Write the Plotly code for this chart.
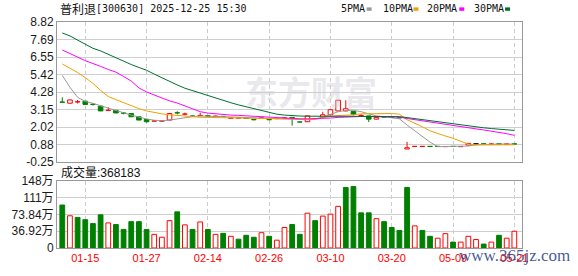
import plotly.graph_objects as go

# ---------------- data ----------------
opens = [3.65, 3.57, 3.65, 3.70, 3.50, 3.38, 3.10, 3.11, 2.93, 2.90,
         2.69, 2.52, 2.41, 2.41, 2.48, 2.95, 2.86, 2.74, 2.77, 2.76,
         2.72, 2.72, 2.60, 2.61, 2.59, 2.51, 2.61, 2.51, 2.57, 2.61,
         2.65, 2.36, 2.37, 2.57, 2.65, 2.82, 3.07, 3.07, 3.04, 2.77,
         2.75, 2.54, 2.68, 2.66, 2.63, 0.61, 0.77, 0.77, 0.78, 0.78,
         0.76, 0.78, 0.76, 0.86, 0.93, 0.94, 0.92, 0.94, 0.92, 0.94]
highs = [3.95, 3.80, 3.78, 3.72, 3.58, 3.39, 3.30, 3.13, 3.00, 2.92,
         2.70, 2.56, 2.48, 2.43, 2.92, 3.05, 2.96, 2.77, 2.95, 2.80,
         2.76, 2.74, 2.63, 2.64, 2.61, 2.53, 2.64, 2.53, 2.60, 2.65,
         2.66, 2.38, 2.76, 2.60, 3.01, 3.16, 3.77, 3.76, 3.05, 2.86,
         2.76, 2.66, 2.70, 2.68, 2.65, 1.07, 0.79, 0.79, 0.79, 0.79,
         0.78, 0.79, 0.78, 0.98, 0.94, 0.95, 1.00, 0.95, 0.95, 0.95]
lows = [3.63, 3.55, 3.55, 3.47, 3.42, 3.06, 3.10, 2.93, 2.85, 2.68,
        2.47, 2.32, 2.40, 2.40, 2.47, 2.85, 2.78, 2.70, 2.72, 2.70,
        2.70, 2.69, 2.58, 2.59, 2.55, 2.46, 2.59, 2.48, 2.56, 2.60,
        2.12, 2.33, 2.36, 2.55, 2.64, 2.81, 3.06, 3.05, 2.78, 2.75,
        2.35, 2.53, 2.64, 2.62, 2.60, 0.60, 0.76, 0.76, 0.76, 0.76,
        0.76, 0.76, 0.76, 0.85, 0.92, 0.92, 0.91, 0.92, 0.92, 0.92]
closes = [3.63, 3.78, 3.66, 3.49, 3.49, 3.07, 3.11, 2.94, 2.92, 2.69,
          2.48, 2.37, 2.42, 2.42, 2.90, 2.94, 2.87, 2.73, 2.78, 2.74,
          2.73, 2.71, 2.61, 2.62, 2.58, 2.50, 2.62, 2.50, 2.58, 2.62,
          2.58, 2.35, 2.75, 2.58, 2.82, 3.15, 3.76, 3.21, 2.86, 2.78,
          2.54, 2.65, 2.67, 2.65, 2.62, 0.69, 0.78, 0.78, 0.77, 0.77,
          0.77, 0.77, 0.77, 0.97, 0.93, 0.93, 0.93, 0.93, 0.93, 0.93]

ma5 = [5.37, 4.60, 3.95, 3.68, 3.56, 3.42, 3.25, 3.10, 2.95, 2.80,
       2.66, 2.55, 2.47, 2.43, 2.48, 2.56, 2.64, 2.70, 2.74, 2.74,
       2.72, 2.70, 2.68, 2.66, 2.64, 2.62, 2.60, 2.58, 2.58, 2.58,
       2.55, 2.50, 2.50, 2.56, 2.66, 2.85, 3.02, 3.10, 3.11, 3.02,
       2.88, 2.75, 2.69, 2.63, 2.56, 2.16, 1.78, 1.40, 1.05, 0.76,
       0.76, 0.76, 0.77, 0.80, 0.88, 0.91, 0.92, 0.93, 0.93, 0.93]
ma10 = [6.11, 5.85, 5.55, 5.22, 4.85, 4.40, 4.00, 3.80, 3.59, 3.40,
        3.22, 3.07, 2.96, 2.88, 2.82, 2.78, 2.72, 2.68, 2.66, 2.65,
        2.64, 2.63, 2.62, 2.62, 2.61, 2.60, 2.59, 2.58, 2.56, 2.55,
        2.54, 2.51, 2.50, 2.52, 2.62, 2.72, 2.77, 2.78, 2.82, 2.88,
        2.90, 2.90, 2.90, 2.90, 2.86, 2.50, 2.28, 2.05, 1.78, 1.60,
        1.45, 1.30, 1.10, 0.92, 0.87, 0.87, 0.87, 0.87, 0.88, 0.88]
ma20 = [7.01, 6.80, 6.55, 6.32, 6.15, 5.95, 5.75, 5.58, 5.30, 5.00,
        4.56, 4.30, 4.10, 3.90, 3.72, 3.58, 3.38, 3.18, 3.02, 2.93,
        2.88, 2.84, 2.80, 2.78, 2.75, 2.72, 2.70, 2.67, 2.64, 2.61,
        2.59, 2.56, 2.56, 2.57, 2.58, 2.61, 2.65, 2.68, 2.70, 2.71,
        2.71, 2.71, 2.70, 2.69, 2.67, 2.58, 2.50, 2.42, 2.36, 2.28,
        2.20, 2.14, 2.06, 1.99, 1.91, 1.84, 1.77, 1.70, 1.60, 1.49]
ma30 = [8.11, 7.92, 7.65, 7.37, 7.12, 6.95, 6.72, 6.50, 6.28, 6.07,
        5.88, 5.70, 5.45, 5.20, 4.98, 4.75, 4.54, 4.38, 4.22, 4.05,
        3.90, 3.75, 3.60, 3.46, 3.33, 3.20, 3.07, 2.96, 2.86, 2.80,
        2.76, 2.74, 2.73, 2.72, 2.72, 2.72, 2.72, 2.72, 2.72, 2.71,
        2.71, 2.71, 2.71, 2.71, 2.70, 2.64, 2.57, 2.51, 2.45, 2.38,
        2.31, 2.23, 2.16, 2.09, 2.03, 1.98, 1.93, 1.88, 1.84, 1.81]

volumes = [94.4, 70.8, 67.2, 62.2, 53.6, 72.9, 55.1, 51.5, 40.8, 57.9,
           57.9, 40.8, 30.0, 23.6, 60.1, 79.4, 50.8, 40.8, 57.2, 40.8,
           30.0, 32.2, 25.7, 19.3, 27.9, 23.6, 33.6, 25.7, 17.2, 45.0,
           51.5, 30.0, 76.5, 60.1, 70.1, 74.4, 91.5, 133.0, 135.0, 77.2,
           77.2, 64.4, 57.9, 45.0, 38.6, 133.0, 48.6, 38.6, 25.7, 21.5,
           31.5, 12.9, 12.9, 25.7, 18.6, 8.6, 12.9, 27.9, 21.5, 36.8]  # 万
vol_rise = [0, 1, 0, 0, 0, 0, 1, 0, 0, 0,
            0, 0, 1, 1, 1, 0, 1, 0, 1, 0,
            1, 0, 1, 0, 0, 0, 1, 0, 1, 1,
            0, 0, 1, 0, 1, 1, 1, 0, 0, 0,
            0, 1, 0, 0, 0, 0, 1, 0, 0, 1,
            1, 0, 1, 1, 1, 0, 1, 0, 1, 1]

tick_idx = [3, 11, 19, 27, 35, 43, 51, 59]
tick_labels = ["01-15", "01-27", "02-14", "02-26", "03-10", "03-20", "05-09", "05-21"]
price_ticks = [-0.25, 0.88, 2.02, 3.15, 4.28, 5.42, 6.55, 7.69, 8.82]
vol_ticks = [0, 36.92, 73.84, 110.76, 147.68]
vol_tick_text = ["0", "36.92万", "73.84万", "111万", "148万"]

title_name = "普利退"
title_rest = "[300630] 2025-12-25 15:30"
vol_label = "成交量:368183"
ma_names = ["5PMA", "10PMA", "20PMA", "30PMA"]

# ---------------- styles ----------------
RED = "#ff0000"
GREEN = "#008000"
BLACK = "#000000"
MA_COLORS = ["#999999", "#f0a000", "#ff00ff", "#006f2e"]

# pixel helpers for annotations (plot area: x 55..522, y 22..254)
L, R, T, B = 55, 56, 22, 22
W, H = 578 - L - R, 276 - T - B
def xp(px):
    return (px - L) / W
def yp(py):
    return (276 - B - py) / H

n = len(closes)
xs = list(range(n))

fig = go.Figure()

# wicks
groups = {RED: ([], []), GREEN: ([], []), BLACK: ([], [])}
for i in xs:
    o, h, l, c = opens[i], highs[i], lows[i], closes[i]
    col = RED if c > o else (GREEN if c < o else BLACK)
    top, bot = max(o, c), min(o, c)
    gx, gy = groups[col]
    if h > top:
        gx += [i, i, None]; gy += [top, h, None]
    if l < bot:
        gx += [i, i, None]; gy += [bot, l, None]
for col, (gx, gy) in groups.items():
    if gx:
        fig.add_trace(go.Scatter(x=gx, y=gy, mode="lines", line=dict(color=col, width=1),
                                 xaxis="x", yaxis="y", hoverinfo="skip"))

# bodies
eps = 0.012
for col, fill, cond in [(RED, "white", lambda o, c: c > o),
                        (GREEN, GREEN, lambda o, c: c < o),
                        (BLACK, BLACK, lambda o, c: c == o)]:
    bx, bbase, bh = [], [], []
    for i in xs:
        o, c = opens[i], closes[i]
        if cond(o, c):
            bx.append(i)
            bbase.append(min(o, c))
            bh.append(max(abs(c - o), eps))
    fig.add_trace(go.Bar(x=bx, y=bh, base=bbase, width=0.6,
                         marker=dict(color=fill, line=dict(color=col, width=1)),
                         xaxis="x", yaxis="y"))

# moving averages
for name, vals, col in zip(ma_names, [ma5, ma10, ma20, ma30], MA_COLORS):
    fig.add_trace(go.Scatter(x=xs, y=vals, mode="lines", name=name,
                             line=dict(color=col, width=1), xaxis="x", yaxis="y"))

# volume
for rise, col, fill in [(1, RED, "white"), (0, GREEN, GREEN)]:
    vx = [i for i in xs if vol_rise[i] == rise]
    vy = [volumes[i] for i in vx]
    fig.add_trace(go.Bar(x=vx, y=vy, width=0.62,
                         marker=dict(color=fill, line=dict(color=col, width=1)),
                         xaxis="x2", yaxis="y2"))

axis_common = dict(showline=True, mirror=True, linecolor="#999999", linewidth=1,
                   zeroline=False, ticks="")
xgrid = dict(showgrid=True, gridcolor="#cccccc", griddash="4px,3px", gridwidth=1)

price_dom = [yp(166), 1]
vol_dom = [0, yp(185)]

fig.update_layout(
    width=578, height=276,
    margin=dict(l=L, r=R, t=T, b=B),
    paper_bgcolor="white", plot_bgcolor="white",
    showlegend=False, barmode="overlay",
    xaxis=dict(domain=[0, 1], anchor="y", range=[-0.69, 60.0], tickvals=tick_idx,
               showticklabels=False, **xgrid, **axis_common),
    yaxis=dict(domain=price_dom, anchor="x", range=[-0.25, 8.82], tickvals=price_ticks,
               ticktext=[f"{v:.2f}" for v in price_ticks],
               showgrid=True, gridcolor="#cfcfcf", gridwidth=1,
               tickfont=dict(family="Liberation Sans, Arial, sans-serif", size=12, color="#1a1a1a"),
               **axis_common),
    xaxis2=dict(domain=[0, 1], anchor="y2", range=[-0.69, 60.0], tickvals=tick_idx,
                ticktext=tick_labels,
                tickfont=dict(family="Liberation Sans, Arial, sans-serif", size=11, color=RED),
                **xgrid, **axis_common),
    yaxis2=dict(domain=vol_dom, anchor="x2", range=[0, 147.68], tickvals=vol_ticks,
                ticktext=vol_tick_text, showgrid=True, gridcolor="#cfcfcf", gridwidth=1,
                tickfont=dict(family="Liberation Sans, Noto Sans CJK SC, sans-serif", size=12, color="#1a1a1a"),
                **axis_common),
)

ann = []
# watermark
ann.append(dict(text="<b>东方财富</b>", x=xp(310), y=yp(93), xref="paper", yref="paper",
                showarrow=False, xanchor="center", yanchor="middle",
                font=dict(family="Noto Sans CJK SC", size=33, color="rgba(205,205,215,0.45)")))
# title
ann.append(dict(text=title_name, x=xp(56), y=yp(8.3), xref="paper", yref="paper",
                showarrow=False, xanchor="left", yanchor="middle",
                font=dict(family="Noto Sans CJK SC", size=12, color="#111111")))
ann.append(dict(text=title_rest, x=xp(92), y=yp(8.3), xref="paper", yref="paper",
                showarrow=False, xanchor="left", yanchor="middle",
                font=dict(family="DejaVu Sans Mono", size=10, color="#111111")))
# MA legend
leg_x = [338, 380, 425, 472]
sq_x = [366, 413, 459, 505]
for name, lx, sx, col in zip(ma_names, leg_x, sq_x, MA_COLORS):
    ann.append(dict(text=name, x=xp(lx), y=yp(8.3), xref="paper", yref="paper",
                    showarrow=False, xanchor="left", yanchor="middle",
                    font=dict(family="DejaVu Sans Mono", size=10, color="#111111")))
    fig.add_shape(type="rect", xref="paper", yref="paper",
                  x0=xp(sx), x1=xp(sx + 5), y0=yp(10.5), y1=yp(7),
                  line=dict(width=0), fillcolor=col)
# volume label
ann.append(dict(text=vol_label, x=xp(57), y=yp(177), xref="paper", yref="paper",
                showarrow=False, xanchor="left", yanchor="middle",
                font=dict(family="Liberation Sans, Noto Sans CJK SC", size=12, color="#111111")))
# site watermark
ann.append(dict(text="www.365jz.com", x=xp(514), y=yp(262), xref="paper", yref="paper",
                showarrow=False, xanchor="center", yanchor="middle",
                font=dict(family="Liberation Serif, serif", size=17, color="rgba(30,60,130,0.85)")))
fig.update_layout(annotations=ann)

fig.write_html("out.html")
